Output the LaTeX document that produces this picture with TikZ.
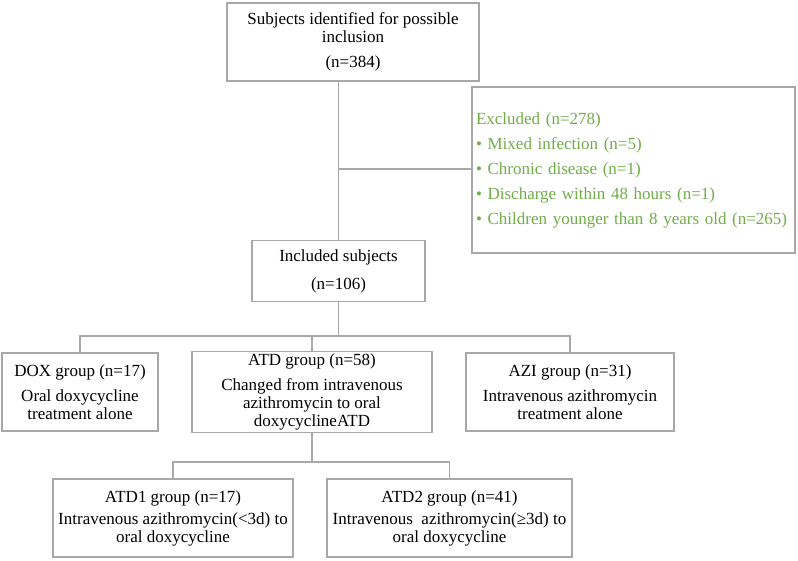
\documentclass[tikz,border=0pt]{standalone}
\usepackage{fontspec}
\setmainfont{Liberation Serif}
\definecolor{linegray}{RGB}{168,168,168}
\definecolor{exgreen}{RGB}{112,173,71}
\begin{document}
\begin{tikzpicture}[x=1pt,y=-1pt,
  box/.style={draw=linegray, line width=1.3pt, rectangle, inner sep=2pt, align=center,
    font=\fontsize{17}{18}\selectfont},
  conn/.style={draw=linegray, line width=1.3pt}]
\useasboundingbox (0,0) rectangle (798,560);
\node[box, minimum width=252, minimum height=78] (top) at (353,42)
  {Subjects identified for possible\\inclusion\\[7pt](n=384)};
\node[box, minimum width=323, minimum height=166, align=left, text width=315pt,
  text=exgreen, font=\fontsize{17}{25}\selectfont] (exc) at (633.5,170)
  {Excluded (n=278)\\
   \textbullet\ Mixed infection (n=5)\\
   \textbullet\ Chronic disease (n=1)\\
   \textbullet\ Discharge within 48 hours (n=1)\\
   \textbullet\ Children younger than 8 years old (n=265)};
\node[box, minimum width=173, minimum height=61] (inc) at (338.5,271)
  {Included subjects\\[10pt](n=106)};
\node[box, minimum width=156, minimum height=78] (dox) at (80,392)
  {DOX group (n=17)\\[7pt]Oral doxycycline\\treatment alone};
\node[box, minimum width=240, minimum height=78] (atd) at (312,392)
  {ATD group (n=58)\\[7pt]Changed from intravenous\\azithromycin to oral\\doxycyclineATD};
\node[box, minimum width=208, minimum height=78] (azi) at (570,392)
  {AZI group (n=31)\\[7pt]Intravenous azithromycin\\treatment alone};
\node[box, minimum width=240, minimum height=78] (atdone) at (173,518)
  {ATD1 group (n=17)\\[4pt]Intravenous azithromycin(<3d) to\\oral doxycycline};
\node[box, minimum width=245, minimum height=78] (atdtwo) at (449.5,518)
  {ATD2 group (n=41)\\[4pt]Intravenous\ \ azithromycin(≥3d) to\\oral doxycycline};
% connectors
\coordinate (jx) at (338.5,169);
\coordinate (j1) at (338.5,336);
\coordinate (j2) at (312,462);
\draw[conn] (top.south -| inc.north) -- (inc.north);
\draw[conn] (jx) -- (exc.west |- jx);
\draw[conn] (inc.south) -- (j1);
\draw[conn] (dox.north) |- (j1);
\draw[conn] (azi.north) |- (j1);
\draw[conn] (atd.north) -- (atd.north |- j1);
\draw[conn] (atd.south) -- (j2);
\draw[conn] (atdone.north) |- (j2);
\draw[conn] (atdtwo.north) |- (j2);
\end{tikzpicture}
\end{document}
